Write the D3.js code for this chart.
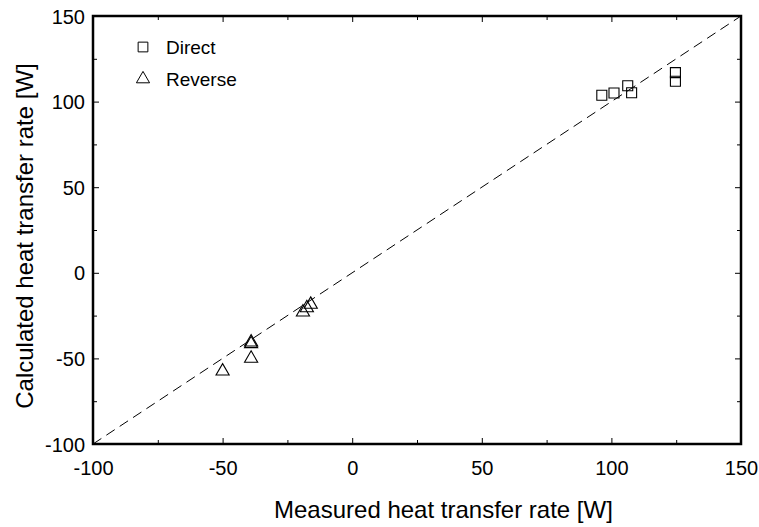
<!DOCTYPE html>
<html>
<head>
<meta charset="utf-8">
<script src="https://cdn.jsdelivr.net/npm/d3@7"></script>
<style>
  body { margin: 0; background: #fff; }
  text { font-family: "Liberation Sans", Arial, sans-serif; fill: #000; }
</style>
</head>
<body>
<div id="chart"></div>
<script>
// data
const directMeasured   = [96.3, 101, 106.3, 107.8, 124.7, 124.7];
const directCalculated = [103.7, 105, 109.3, 105.2, 116.9, 111.9];
const reverseMeasured   = [-50, -39, -39, -39, -19, -17.5, -16];
const reverseCalculated = [-57.5, -40.5, -41.5, -50, -23, -20.5, -18.5];
const majorTicks = [-100, -50, 0, 50, 100, 150];
const minorTicks = [-75, -25, 25, 75, 125];

const W = 759, H = 527;
const margin = {top: 16, right: 18, bottom: 83, left: 93};
const width = W - margin.left - margin.right,
      height = H - margin.top - margin.bottom;

const svg = d3.select("#chart").append("svg")
    .attr("width", W).attr("height", H)
  .append("g")
    .attr("transform", `translate(${margin.left},${margin.top})`);

const x = d3.scaleLinear().domain([-100, 150]).range([0, width]);
const y = d3.scaleLinear().domain([-100, 150]).range([height, 0]);

// 1:1 dashed line
svg.append("line")
  .attr("x1", x(-100)).attr("y1", y(-100))
  .attr("x2", x(150)).attr("y2", y(150))
  .attr("stroke", "#000").attr("stroke-width", 1)
  .attr("stroke-dasharray", "10,6");

// ticks on all four sides, pointing inward
function ticksOn(axisFn, scale, transform, size, labels) {
  const g = svg.append("g").attr("transform", transform)
    .call(axisFn(scale).tickValues(labels ? majorTicks : minorTicks)
      .tickSize(-size).tickSizeOuter(0).tickFormat(labels ? (d => String(d)) : ""));
  g.select(".domain").remove();
  g.selectAll(".tick line").attr("stroke", "#000").attr("stroke-width", 1);
  g.selectAll(".tick text").style("font-size", "20px").attr("fill", "#000");
  return g;
}
const bx = ticksOn(d3.axisBottom, x, `translate(0,${height})`, 6, true);
bx.selectAll(".tick text").attr("dy", "0").attr("y", 31);
ticksOn(d3.axisBottom, x, `translate(0,${height})`, 4, false);
const ly = ticksOn(d3.axisLeft, y, "translate(0,0)", 6, true);
ly.selectAll(".tick text").attr("x", -8).attr("dy", "0.35em");
ticksOn(d3.axisLeft, y, "translate(0,0)", 4, false);
const tx = ticksOn(d3.axisTop, x, "translate(0,0)", 6, true);
tx.selectAll(".tick text").remove();
ticksOn(d3.axisTop, x, "translate(0,0)", 4, false);
const ry = ticksOn(d3.axisRight, y, `translate(${width},0)`, 6, true);
ry.selectAll(".tick text").remove();
ticksOn(d3.axisRight, y, `translate(${width},0)`, 4, false);

// frame
svg.append("rect")
  .attr("width", width).attr("height", height)
  .attr("fill", "none").attr("stroke", "#000").attr("stroke-width", 2.5);

// markers
const sq = d3.symbol().type(d3.symbolSquare).size(100);
const tri = d3.symbol().type(d3.symbolTriangle).size(75);

svg.selectAll(".direct")
  .data(directMeasured.map((m, i) => [m, directCalculated[i]]))
  .enter().append("path")
    .attr("class", "direct")
    .attr("d", sq)
    .attr("transform", d => `translate(${x(d[0])},${y(d[1])})`)
    .attr("fill", "none").attr("stroke", "#000").attr("stroke-width", 1.1);

svg.selectAll(".reverse")
  .data(reverseMeasured.map((m, i) => [m, reverseCalculated[i]]))
  .enter().append("path")
    .attr("class", "reverse")
    .attr("d", tri)
    .attr("transform", d => `translate(${x(d[0])},${y(d[1])})`)
    .attr("fill", "none").attr("stroke", "#000").attr("stroke-width", 1.1);

// legend
const legend = svg.append("g").attr("transform", "translate(50,31)");
legend.append("path").attr("d", d3.symbol().type(d3.symbolSquare).size(95))
  .attr("fill", "none").attr("stroke", "#000");
legend.append("text").attr("x", 23).attr("y", 0).attr("dy", "0.35em")
  .style("font-size", "19px").text("Direct");
legend.append("path").attr("d", d3.symbol().type(d3.symbolTriangle).size(75))
  .attr("transform", "translate(0,32)")
  .attr("fill", "none").attr("stroke", "#000");
legend.append("text").attr("x", 23).attr("y", 32).attr("dy", "0.35em")
  .style("font-size", "19px").text("Reverse");

// axis titles
svg.append("text")
  .attr("x", 274 - margin.left).attr("y", 518 - margin.top)
  .style("font-size", "24px")
  .text("Measured heat transfer rate [W]");

svg.append("text")
  .attr("transform", "rotate(-90)")
  .attr("x", -220).attr("y", -60)
  .style("text-anchor", "middle").style("font-size", "24px")
  .text("Calculated heat transfer rate [W]");
</script>
</body>
</html>
